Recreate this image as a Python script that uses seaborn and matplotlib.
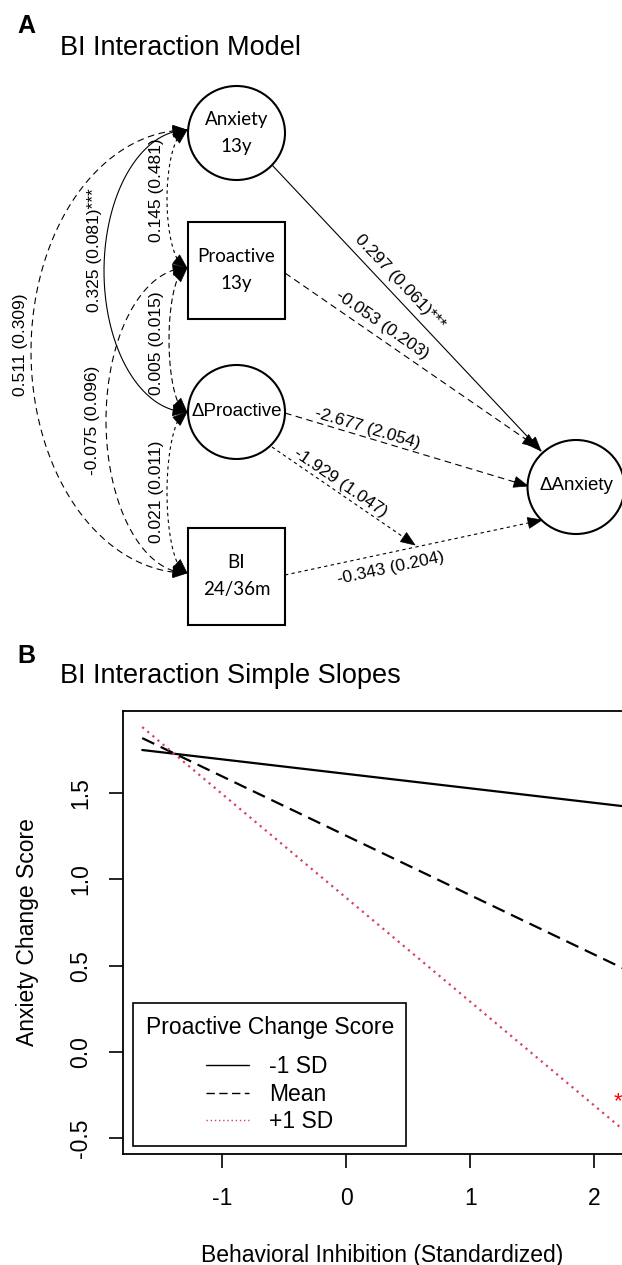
import numpy as np
import pandas as pd
import matplotlib

matplotlib.use("Agg")
import matplotlib.pyplot as plt
from matplotlib.patches import Ellipse, Rectangle, Polygon
import seaborn as sns

sns.set_theme(style="ticks")
plt.rcParams["font.family"] = ["Liberation Sans", "DejaVu Sans"]
plt.rcParams["text.color"] = "black"
plt.rcParams["axes.labelcolor"] = "black"
plt.rcParams["xtick.color"] = "black"
plt.rcParams["ytick.color"] = "black"

# ---------------- data ----------------
# Panel A: regression paths, estimate (SE)
path_from = ["Anxiety 13y", "Proactive 13y", "ΔProactive", "ΔProactive", "BI 24/36m"]
path_to = ["ΔAnxiety", "ΔAnxiety", "ΔAnxiety", "BI->ΔAnxiety", "ΔAnxiety"]
path_est = [0.297, -0.053, -2.677, -1.929, -0.343]
path_se = [0.061, 0.203, 2.054, 1.047, 0.204]
path_sig = ["***", "", "", "", ""]

# Panel A: covariances, estimate (SE)
cov_a = ["Anxiety 13y", "Anxiety 13y", "Anxiety 13y", "Proactive 13y", "Proactive 13y", "ΔProactive"]
cov_b = ["Proactive 13y", "ΔProactive", "BI 24/36m", "ΔProactive", "BI 24/36m", "BI 24/36m"]
cov_est = [0.145, 0.325, 0.511, 0.005, -0.075, 0.021]
cov_se = [0.481, 0.081, 0.309, 0.015, 0.096, 0.011]
cov_sig = ["", "***", "", "", "", ""]

# Panel B: simple slopes
bi_std = [-1.645, 2.226]
pro_levels = ["-1 SD", "Mean", "+1 SD"]
anx_minus = [1.750, 1.425]
anx_mean = [1.819, 0.487]
anx_plus = [1.883, -0.446]

# ---------------- layout (pixels) ----------------
W, H = 622, 1265
node_xy = {
    "Anxiety 13y": (236.5, 133),
    "Proactive 13y": (236.5, 270),
    "ΔProactive": (236.5, 412),
    "BI 24/36m": (236.5, 576),
    "ΔAnxiety": (576, 487),
}
node_box = {"Proactive 13y", "BI 24/36m"}
node_lines = {
    "Anxiety 13y": ["Anxiety", "13y"],
    "Proactive 13y": ["Proactive", "13y"],
    "BI 24/36m": ["BI", "24/36m"],
}
left_y = {"Anxiety 13y": 130, "Proactive 13y": 268, "ΔProactive": 412, "BI 24/36m": 573}

path_pts = [((272, 165), (541, 451)), ((285, 273), (537, 447)), ((285, 413), (528, 486)),
            ((272, 447), (415, 545)), ((285, 575), (542, 520))]
path_ls = ["-", (0, (6, 4)), (0, (6, 4)), (0, (3, 3)), (0, (3, 3))]
path_lab = [(400, 282), (382, 325), (367, 429), (340, 483), (391, 568)]

cov_w = [20, 83, 156, 18, 81, 20]
cov_ls = [(0, (3, 3)), "-", (0, (6, 4)), (0, (5, 3)), (0, (6, 4)), (0, (3, 3))]
cov_lab = [(157, 190), (95, 250), (21, 345), (157, 343), (93, 420), (157, 492)]


def head(ax, tip, back, length=14, width=11):
    tip = np.asarray(tip, float)
    d = tip - np.asarray(back, float)
    d /= np.hypot(*d)
    n = np.array([-d[1], d[0]])
    base = tip - d * length
    ax.add_patch(Polygon([tip, base + n * width / 2, base - n * width / 2],
                         closed=True, fc="black", ec="black", lw=0.5, zorder=5))


fig = plt.figure(figsize=(W / 100, H / 100), dpi=100)
pa = fig.add_axes([0, 0, 1, 1])
pa.set_xlim(0, W)
pa.set_ylim(H, 0)
pa.axis("off")

# titles
pa.text(17, 33, "A", fontsize=18, fontweight="bold", va="baseline")
pa.text(60, 55, "BI Interaction Model", fontsize=19.5, va="baseline")
pa.text(17, 663, "B", fontsize=18, fontweight="bold", va="baseline")
pa.text(60, 683, "BI Interaction Simple Slopes", fontsize=19.5, va="baseline")

# nodes
for name, (cx, cy) in node_xy.items():
    if name in node_box:
        pa.add_patch(Rectangle((cx - 48.5, cy - 48.5), 97, 97, fill=False, ec="black", lw=1.5, zorder=3))
    else:
        pa.add_patch(Ellipse((cx, cy), 97, 94, fill=False, ec="black", lw=1.5, zorder=3))
    if name in node_lines:
        l1, l2 = node_lines[name]
        pa.text(cx, cy - 13.5, l1, fontsize=13.5, family="Lato", ha="center", va="center")
        pa.text(cx, cy + 13.5, l2, fontsize=13.5, family="Lato", ha="center", va="center")
    else:
        pa.text(cx, cy - 1, name, fontsize=13.5, ha="center", va="center")

# regression paths
for i in range(len(path_est)):
    (x0, y0), (x1, y1) = path_pts[i]
    pa.plot([x0, x1], [y0, y1], color="black", lw=0.8, ls=path_ls[i], zorder=2)
    head(pa, (x1, y1), (x0, y0))
    ang = -np.degrees(np.arctan2(y1 - y0, x1 - x0))
    lx, ly = path_lab[i]
    pa.text(lx, ly, f"{path_est[i]:.3f} ({path_se[i]:.3f}){path_sig[i]}", fontsize=12.5,
            rotation=ang, rotation_mode="anchor", ha="center", va="center")

# covariances (double-headed arcs on the left)
x_anchor = 187
t = np.linspace(0, np.pi, 400)
for i in range(len(cov_est)):
    ya, yb = left_y[cov_a[i]], left_y[cov_b[i]]
    yc, b = (ya + yb) / 2, (yb - ya) / 2
    xs = x_anchor - cov_w[i] * np.sin(t)
    ys = yc - b * np.cos(t)
    pa.plot(xs, ys, color="black", lw=0.8, ls=cov_ls[i], zorder=2)
    seg = np.cumsum(np.hypot(np.diff(xs), np.diff(ys)))
    k = np.searchsorted(seg, 12)
    head(pa, (xs[0], ys[0]), (xs[k], ys[k]))
    k2 = np.searchsorted(seg, seg[-1] - 12)
    head(pa, (xs[-1], ys[-1]), (xs[k2], ys[k2]))
    lx, ly = cov_lab[i]
    pa.text(lx, ly, f"{cov_est[i]:.3f} ({cov_se[i]:.3f}){cov_sig[i]}", fontsize=12.5,
            rotation=90, ha="center", va="center")

# ---------------- panel B ----------------
pb = fig.add_axes([123 / W, 1 - 1154 / H, (642 - 123) / W, (1154 - 711) / H])
df = pd.DataFrame({
    "bi": bi_std * 3,
    "anx": anx_minus + anx_mean + anx_plus,
    "level": np.repeat(pro_levels, 2),
})
styles = {
    "-1 SD": dict(color="black", linestyle="-"),
    "Mean": dict(color="black", linestyle=(0, (6, 3.2))),
    "+1 SD": dict(color="#D9415E", linestyle=(0, (1, 2))),
}
for lev in pro_levels:
    sns.lineplot(data=df[df["level"] == lev], x="bi", y="anx", ax=pb, label=lev,
                 lw=1.6, **styles[lev])

pb.text(2.19, -0.29, "*", color="red", fontsize=16, ha="center", va="center")

pb.set_xlim(-1.80, 2.385)
pb.set_ylim(-0.591, 1.976)
pb.set_xticks([-1, 0, 1, 2])
pb.set_xticklabels(["-1", "0", "1", "2"])
pb.set_yticks([-0.5, 0.0, 0.5, 1.0, 1.5])
pb.set_yticklabels(["-0.5", "0.0", "0.5", "1.0", "1.5"], rotation=90, va="center")
pb.tick_params(direction="out", length=10, width=1.2, color="black", labelsize=16.5,
               bottom=True, left=True)
pb.tick_params(axis="x", pad=14)
pb.tick_params(axis="y", pad=12)
for sp in pb.spines.values():
    sp.set_color("black")
    sp.set_linewidth(1.3)
pb.set_xlabel("Behavioral Inhibition (Standardized)", fontsize=16.5, labelpad=24)
pb.set_ylabel("Anxiety Change Score", fontsize=16.5, labelpad=22)

leg = pb.legend(title="Proactive Change Score", loc="lower left",
                bbox_to_anchor=(0.0193, 0.018), frameon=True, fancybox=False,
                edgecolor="black", framealpha=1, fontsize=16.5, title_fontsize=16.5,
                handlelength=1.85, handletextpad=0.9, borderpad=0.55, labelspacing=0.2,
                borderaxespad=0)
leg.get_frame().set_linewidth(1.2)
leg._legend_box.sep = 12
for ln in leg.get_lines():
    ln.set_linewidth(1.0)

fig.savefig("out.png", dpi=100)
